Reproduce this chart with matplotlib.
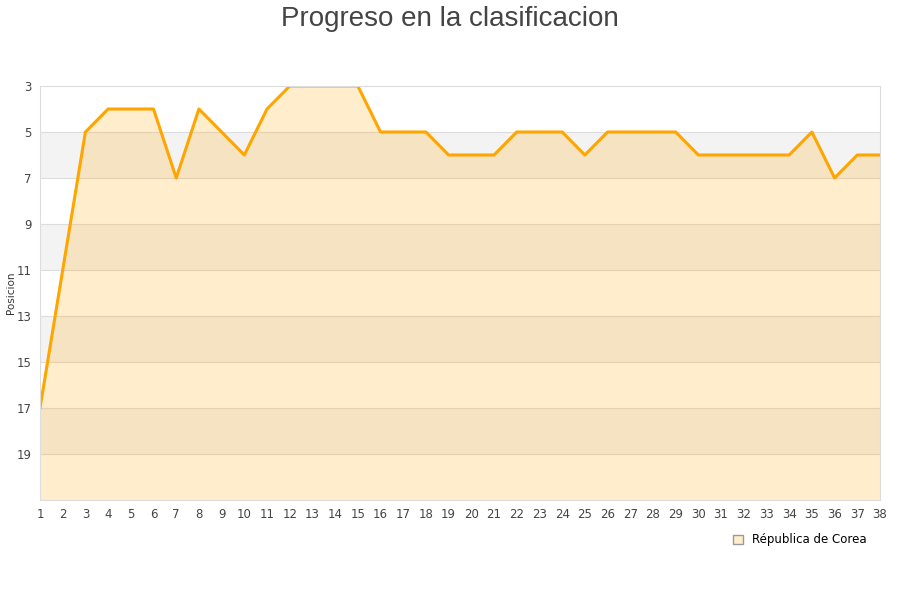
import matplotlib
matplotlib.use("Agg")
import matplotlib.pyplot as plt
from matplotlib.patches import Patch

# jornadas y posiciones
rounds = list(range(1, 39))
positions = [17, 11, 5, 4, 4, 4, 7, 4, 5, 6, 4, 3, 3, 3, 3, 5, 5, 5, 6, 6,
             6, 5, 5, 5, 6, 5, 5, 5, 5, 6, 6, 6, 6, 6, 5, 7, 6, 6]
y_ticks = [3, 5, 7, 9, 11, 13, 15, 17, 19]
team = 'Républica de Corea'

fig = plt.figure(figsize=(9, 6), dpi=100)
ax = fig.add_axes([40 / 900, 1 - 500 / 600, 840 / 900, 414 / 600])

# bandas alternas
for lo in [5, 9, 13, 17]:
    ax.axhspan(lo, lo + 2, color='#f3f3f3', lw=0, zorder=0)
for yv in y_ticks[1:]:
    ax.axhline(yv, color='#dddddd', lw=0.8, zorder=0.5)

ax.fill_between(rounds, positions, 21, color='#ffa500', alpha=0.2, lw=0, zorder=1)
ax.plot(rounds, positions, color='#ffa500', lw=2.2, zorder=2)

ax.set_xlim(1, 38)
ax.set_ylim(21, 3)
ax.set_xticks(rounds)
ax.set_yticks(y_ticks)
ax.tick_params(length=0, labelsize=8.5, labelcolor='#444444', pad=6)
for s in ax.spines.values():
    s.set_color('#dddddd')

ax.set_ylabel('Posicion', fontsize=7.5, color='#333333')
ax.yaxis.set_label_coords(-24 / 840, 0.5)
fig.suptitle('Progreso en la clasificacion', fontsize=20, color='#444444', y=0.99,
             family='Liberation Sans')

leg = fig.legend(handles=[Patch(facecolor='#ffedcc', edgecolor='#999999', label=team)],
                 loc='center', bbox_to_anchor=(800 / 900, 1 - 540 / 600), frameon=False,
                 fontsize=8.5, handlelength=0.8, handleheight=0.8, handletextpad=0.8)

fig.savefig('out.png', dpi=100)
